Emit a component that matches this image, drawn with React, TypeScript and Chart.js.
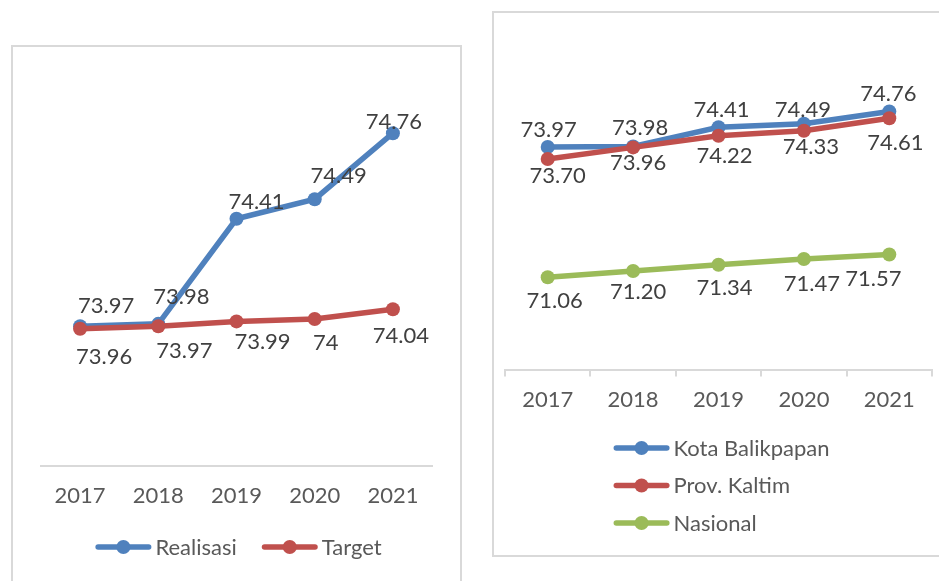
import React, { useEffect, useRef } from "react";
import { Chart, registerables } from "chart.js";

Chart.register(...registerables);

// ---------- data ----------
const years = ["2017", "2018", "2019", "2020", "2021"];

// left chart
const realisasi = [73.97, 73.98, 74.41, 74.49, 74.76];
const target = [73.96, 73.97, 73.99, 74, 74.04];

// right chart
const kotaBalikpapan = [73.97, 73.98, 74.41, 74.49, 74.76];
const provKaltim = [73.7, 73.96, 74.22, 74.33, 74.61];
const nasional = [71.06, 71.2, 71.34, 71.47, 71.57];

// ---------- style ----------
const BLUE = "#4F81BD";
const RED = "#C0504D";
const GREEN = "#9BBB59";
const FONT = "Lato, 'Open Sans', sans-serif";
const FONT_SIZE = 22;

// label offsets (px, relative to each point)
const leftOffsets = [
  [[26, -21], [23, -28], [20, -18], [24, -24], [1, -12]],
  [[24, 27], [26, 24], [26, 20], [11, 23], [8, 26]],
];
const rightOffsets = [
  [[1, -18], [7, -19], [3, -18], [-1, -15], [-1, -18]],
  [[10, 16], [5, 15], [6, 19], [7, 15], [6, 24]],
  [[7, 23], [5, 20], [6, 22], [8, 24], [-16, 24]],
];

const pointLabelPlugin = {
  id: "pointLabels",
  afterDatasetsDraw(chart: any, _args: any, opts: any) {
    const ctx = chart.ctx;
    ctx.save();
    ctx.font = `${opts.size}px ${opts.family}`;
    ctx.fillStyle = opts.color;
    ctx.textAlign = "center";
    ctx.textBaseline = "alphabetic";
    const capHalf = opts.size * 0.36;
    chart.data.datasets.forEach((ds: any, di: number) => {
      const meta = chart.getDatasetMeta(di);
      const offs = opts.offsets[di];
      meta.data.forEach((pt: any, i: number) => {
        const v = ds.data[i];
        const txt = opts.fixed ? v.toFixed(2) : String(v);
        ctx.fillText(txt, pt.x + offs[i][0], pt.y + offs[i][1] + capHalf);
      });
    });
    ctx.restore();
  },
};

const lineLegendPlugin = {
  id: "lineLegend",
  afterDraw(chart: any, _args: any, opts: any) {
    const { ctx, chartArea } = chart;
    ctx.save();
    ctx.font = `${opts.size}px ${opts.family}`;
    const sym = opts.symbolWidth;
    const gap = opts.textGap;
    const items = chart.data.datasets.map((ds: any) => ({
      label: ds.label,
      color: ds.borderColor,
    }));
    const widths = items.map(
      (it: any) => sym + gap + ctx.measureText(it.label).width
    );
    const cx = (chartArea.left + chartArea.right) / 2 + (opts.shiftX || 0);
    const drawItem = (x: number, y: number, it: any) => {
      ctx.strokeStyle = it.color;
      ctx.lineWidth = 5.5;
      ctx.lineCap = "round";
      ctx.beginPath();
      ctx.moveTo(x + 2.75, y);
      ctx.lineTo(x + sym - 2.75, y);
      ctx.stroke();
      ctx.fillStyle = it.color;
      ctx.beginPath();
      ctx.arc(x + sym / 2, y, 7, 0, Math.PI * 2);
      ctx.fill();
      ctx.fillStyle = opts.color;
      ctx.textAlign = "left";
      ctx.textBaseline = "alphabetic";
      ctx.fillText(it.label, x + sym + gap, y + opts.size * 0.36);
    };
    if (opts.direction === "row") {
      const total =
        widths.reduce((a: number, b: number) => a + b, 0) +
        opts.itemGap * (items.length - 1);
      let x = cx - total / 2;
      items.forEach((it: any, i: number) => {
        drawItem(x, opts.y, it);
        x += widths[i] + opts.itemGap;
      });
    } else {
      const maxW = Math.max(...widths);
      const x = cx - maxW / 2;
      items.forEach((it: any, i: number) => {
        drawItem(x, opts.y + i * opts.rowGap, it);
      });
    }
    ctx.restore();
  },
};

function lineDataset(label: string, data: number[], color: string, order: number) {
  return {
    label,
    data,
    borderColor: color,
    backgroundColor: color,
    borderWidth: 5.5,
    pointRadius: 7,
    pointBorderWidth: 0,
    pointBackgroundColor: color,
    tension: 0,
    order,
    clip: false as any,
  };
}

function LeftChart() {
  const ref = useRef<HTMLCanvasElement | null>(null);
  useEffect(() => {
    if (!ref.current) return;
    const chart = new Chart(ref.current, {
      type: "line",
      data: {
        labels: years,
        datasets: [
          lineDataset("Realisasi", realisasi, BLUE, 1),
          lineDataset("Target", target, RED, 0),
        ],
      },
      options: {
        animation: false,
        responsive: false,
        layout: { padding: { left: 28, right: 28, top: 52, bottom: 55 } },
        scales: {
          x: {
            offset: true,
            grid: { display: false, drawTicks: false },
            border: { display: true, color: "#D9D9D9", width: 2 },
            ticks: {
              padding: 17,
              maxRotation: 0,
              autoSkip: false,
              color: "#595959",
              font: { family: FONT, size: FONT_SIZE },
            },
          },
          y: { display: false, min: 73.4, max: 74.9 },
        },
        plugins: {
          legend: { display: false },
          tooltip: { enabled: false },
          pointLabels: {
            offsets: leftOffsets,
            fixed: false,
            size: FONT_SIZE,
            family: FONT,
            color: "#404040",
          },
          lineLegend: {
            direction: "row",
            y: 500,
            symbolWidth: 56,
            textGap: 4,
            itemGap: 25,
            size: FONT_SIZE,
            family: FONT,
            color: "#595959",
            shiftX: 2,
          },
        } as any,
      },
      plugins: [pointLabelPlugin, lineLegendPlugin],
    });
    return () => chart.destroy();
  }, []);
  return (
    <canvas
      ref={ref}
      width={447}
      height={534}
      style={{ position: "absolute", left: 13, top: 47, width: 447, height: 534 }}
    />
  );
}

function RightChart() {
  const ref = useRef<HTMLCanvasElement | null>(null);
  useEffect(() => {
    if (!ref.current) return;
    const chart = new Chart(ref.current, {
      type: "line",
      data: {
        labels: years,
        datasets: [
          lineDataset("Kota Balikpapan", kotaBalikpapan, BLUE, 2),
          lineDataset("Prov. Kaltim", provKaltim, RED, 1),
          lineDataset("Nasional", nasional, GREEN, 0),
        ],
      },
      options: {
        animation: false,
        responsive: false,
        layout: { padding: { left: 11, right: 6, top: 43, bottom: 132 } },
        scales: {
          x: {
            offset: true,
            grid: {
              display: true,
              offset: true,
              drawOnChartArea: false,
              drawTicks: true,
              tickLength: 7,
              color: "#D9D9D9",
              lineWidth: 2,
            },
            border: { display: true, color: "#D9D9D9", width: 2 },
            ticks: {
              padding: 10,
              maxRotation: 0,
              autoSkip: false,
              color: "#595959",
              font: { family: FONT, size: FONT_SIZE },
            },
          },
          y: { display: false, min: 69, max: 76 },
        },
        plugins: {
          legend: { display: false },
          tooltip: { enabled: false },
          pointLabels: {
            offsets: rightOffsets,
            fixed: true,
            size: FONT_SIZE,
            family: FONT,
            color: "#404040",
          },
          lineLegend: {
            direction: "column",
            y: 435,
            rowGap: 37.5,
            symbolWidth: 56,
            textGap: 4,
            size: FONT_SIZE,
            family: FONT,
            color: "#595959",
            shiftX: 3,
          },
        } as any,
      },
      plugins: [pointLabelPlugin, lineLegendPlugin],
    });
    return () => chart.destroy();
  }, []);
  return (
    <canvas
      ref={ref}
      width={445}
      height={542}
      style={{ position: "absolute", left: 494, top: 13, width: 445, height: 542 }}
    />
  );
}

export default function App() {
  return (
    <div
      style={{
        position: "fixed",
        left: 0,
        top: 0,
        width: 939,
        height: 581,
        overflow: "hidden",
        background: "#ffffff",
      }}
    >
      <div
        style={{
          position: "absolute",
          left: 11,
          top: 45,
          width: 451,
          height: 600,
          boxSizing: "border-box",
          border: "2px solid #D9D9D9",
        }}
      />
      <div
        style={{
          position: "absolute",
          left: 492,
          top: 11,
          width: 470,
          height: 546,
          boxSizing: "border-box",
          border: "2px solid #D9D9D9",
        }}
      />
      <LeftChart />
      <RightChart />
    </div>
  );
}
